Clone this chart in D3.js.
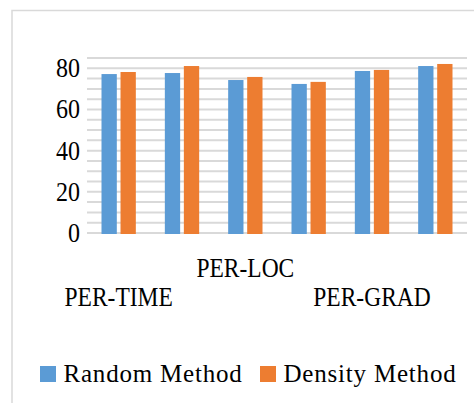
<!DOCTYPE html>
<html>
<head>
<meta charset="utf-8">
<script src="https://d3js.org/d3.v7.min.js"></script>
<style>
	body { margin: 0; background: #fff; }
	svg text { font-family: "Liberation Serif", "Times New Roman", Times, serif !important; fill: #000; }
</style>
</head>
<body>
<div id="chart"></div>
<script>

// [cat1, cat2, ...] (only every other label is shown in the picture)
var categories = ["PER-TIME", "c2", "PER-LOC", "c4", "PER-GRAD", "c6"];
var shown_labels = ["PER-TIME", "", "PER-LOC", "", "PER-GRAD", ""];
// row of the staggered label: 0 = upper, 1 = lower
var label_rows = [1, 0, 0, 0, 1, 0];
var series_names = ["Random Method", "Density Method"];
var random_values = [77.2, 77.7, 74.3, 72.4, 78.7, 81.1];
var density_values = [78.2, 81.1, 75.8, 73.4, 79.2, 82.1];
var y_ticks = [0, 20, 40, 60, 80];
var grid_values = d3.range(0, 86, 5);

var colorPalette = ["#5B9BD5", "#ED7D31"];

var width = 474;
var height = 403;
var margin = {top: 58, right: 7, bottom: 170, left: 87};

var svg = d3.select("#chart").append("svg")
	.attr("width", width)
	.attr("height", height);

// chart border
svg.append("rect")
	.attr("x", 12)
	.attr("y", 10.5)
	.attr("width", 600)
	.attr("height", 600)
	.attr("fill", "none")
	.attr("stroke", "#d9d9d9")
	.attr("stroke-width", 1.5);

var display_data = [];
for (var i = 0; i < categories.length; i++) {
	display_data.push({cat: categories[i], values: [random_values[i], density_values[i]]});
}

var xScale = d3.scaleBand()
	.domain(categories)
	.range([margin.left, width - margin.right])
	.paddingInner(0.458)
	.paddingOuter(0.229);

var xScaleSeries = d3.scaleBand()
	.domain([0, 1])
	.range([0, xScale.bandwidth()])
	.paddingInner(0.195);

var yScale = d3.scaleLinear()
	.domain([0, 85])
	.range([height - margin.bottom, margin.top]);

// gridlines
svg.append("g")
	.attr("class", "grid")
	.selectAll("line")
	.data(grid_values)
	.enter()
	.append("line")
	.attr("x1", margin.left)
	.attr("x2", width - margin.right)
	.attr("y1", function(d) { return yScale(d); })
	.attr("y2", function(d) { return yScale(d); })
	.attr("stroke", "#d9d9d9")
	.attr("stroke-width", 2);

// y axis labels
var yAxis = d3.axisLeft(yScale).tickValues(y_ticks).tickSize(0).tickPadding(7);
var yAxisG = svg.append("g")
	.attr("class", "axis y-axis")
	.attr("transform", "translate(" + margin.left + ",0)")
	.call(yAxis);
yAxisG.select(".domain").remove();
yAxisG.selectAll("text")
	.attr("font-size", 24)
	.attr("fill", "#000")
	.attr("dy", "0.3em")
	.attr("transform", "scale(1,1.16)");

// bars
var groups = svg.selectAll(".group")
	.data(display_data)
	.enter()
	.append("g")
	.attr("class", "group")
	.attr("transform", function(d) { return "translate(" + xScale(d.cat) + ",0)"; });

groups.selectAll("rect")
	.data(function(d) { return d.values; })
	.enter()
	.append("rect")
	.attr("x", function(d, i) { return xScaleSeries(i); })
	.attr("y", function(d) { return yScale(d); })
	.attr("width", xScaleSeries.bandwidth())
	.attr("height", function(d) { return yScale(0) - yScale(d) + 1; })
	.attr("fill", function(d, i) { return colorPalette[i]; });

// staggered category labels
var rowBaselines = [276.7, 306];
svg.append("g")
	.attr("class", "x-labels")
	.selectAll("text")
	.data(categories)
	.enter()
	.append("text")
	.attr("text-anchor", "middle")
	.attr("font-size", 23.5)
	.attr("transform", function(d, i) {
		var cx = xScale(d) + xScale.bandwidth() / 2;
		return "translate(" + cx + "," + rowBaselines[label_rows[i]] + ") scale(1,1.2)";
	})
	.text(function(d, i) { return shown_labels[i]; });

// legend
var legendX = [40, 260];
var legend = svg.append("g").attr("class", "legend");
legend.selectAll("rect")
	.data(series_names)
	.enter()
	.append("rect")
	.attr("x", function(d, i) { return legendX[i]; })
	.attr("y", 366)
	.attr("width", 16)
	.attr("height", 16)
	.attr("fill", function(d, i) { return colorPalette[i]; });

legend.selectAll("text")
	.data(series_names)
	.enter()
	.append("text")
	.attr("x", function(d, i) { return legendX[i] + 23.5; })
	.attr("y", 382)
	.attr("font-size", 25)
	.attr("letter-spacing", 0.8)
	.text(function(d) { return d; });

</script>
</body>
</html>
